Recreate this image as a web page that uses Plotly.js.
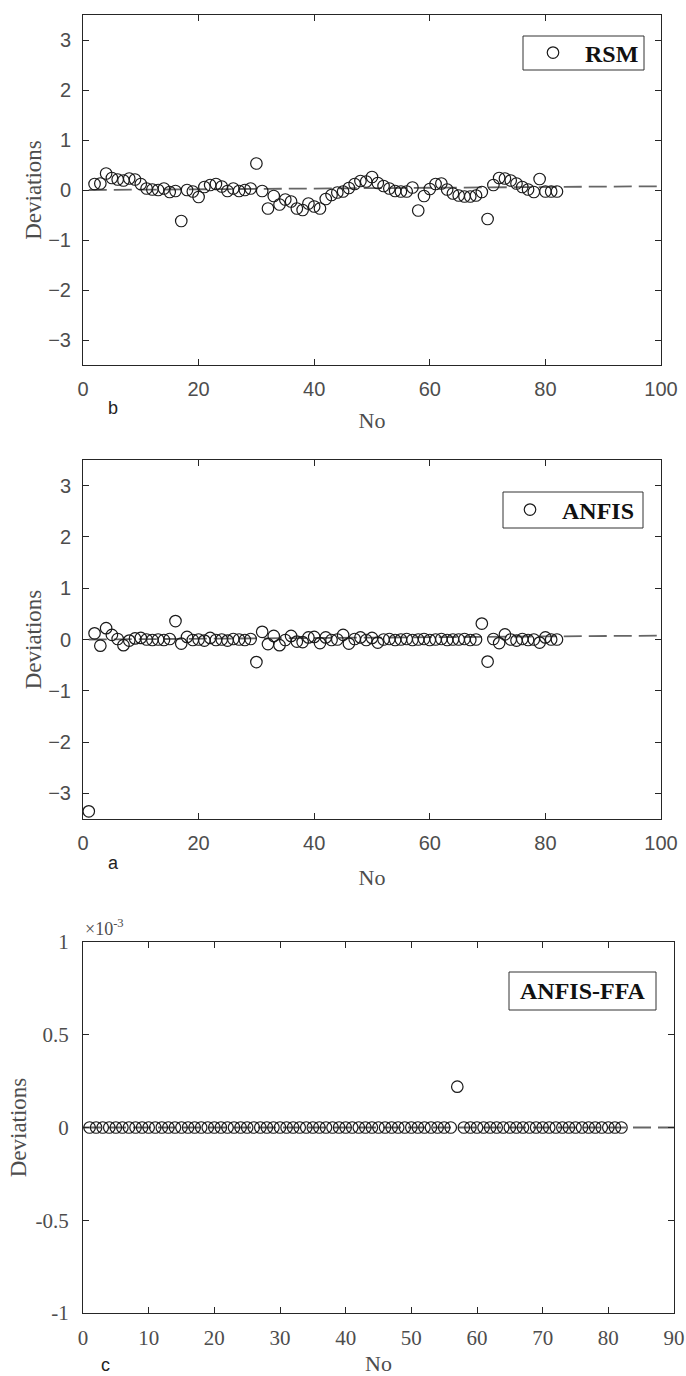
<!DOCTYPE html>
<html>
<head>
<meta charset="utf-8">
<script src="https://cdn.plot.ly/plotly-3.0.1.min.js"></script>
<style>html,body{margin:0;padding:0;background:#fff;}#chart{width:686px;height:1376px;}</style>
</head>
<body>
<div id="chart"></div>
<script>
// ---------- data ----------
const noRSM = [2,3,4,5,6,7,8,9,10,11,12,13,14,15,16,17,18,19,20,21,22,23,24,25,26,27,28,29,30,31,32,33,34,35,36,37,38,39,40,41,42,43,44,45,46,47,48,49,50,51,52,53,54,55,56,57,58,59,60,61,62,63,64,65,66,67,68,69,70,71,72,73,74,75,76,77,78,79,80,81,82];
const devRSM = [0.12,0.13,0.33,0.24,0.21,0.19,0.23,0.21,0.12,0.03,0.01,0.0,0.03,-0.04,-0.02,-0.62,0.0,-0.03,-0.14,0.06,0.10,0.12,0.07,-0.02,0.03,-0.02,0.0,0.03,0.53,-0.02,-0.37,-0.12,-0.29,-0.19,-0.23,-0.37,-0.40,-0.27,-0.33,-0.37,-0.18,-0.10,-0.05,-0.03,0.04,0.12,0.18,0.17,0.26,0.14,0.08,0.03,-0.02,-0.03,-0.03,0.05,-0.41,-0.12,0.02,0.12,0.13,0.01,-0.07,-0.11,-0.13,-0.13,-0.11,-0.04,-0.58,0.10,0.24,0.23,0.19,0.13,0.06,0.01,-0.04,0.22,-0.03,-0.03,-0.03];

const noANFIS = [1,2,3,4,5,6,7,8,9,10,11,12,13,14,15,16,17,18,19,20,21,22,23,24,25,26,27,28,29,30,31,32,33,34,35,36,37,38,39,40,41,42,43,44,45,46,47,48,49,50,51,52,53,54,55,56,57,58,59,60,61,62,63,64,65,66,67,68,69,70,71,72,73,74,75,76,77,78,79,80,81,82];
const devANFIS = [-3.35,0.12,-0.12,0.22,0.09,0.01,-0.11,-0.02,0.02,0.03,0.0,-0.01,0.0,-0.01,0.01,0.36,-0.08,0.05,-0.01,0.0,-0.02,0.03,-0.01,0.0,-0.02,0.01,0.0,-0.01,0.01,-0.44,0.15,-0.09,0.07,-0.11,-0.01,0.07,-0.04,-0.05,0.04,0.05,-0.07,0.04,-0.01,0.0,0.09,-0.08,0.01,0.04,-0.01,0.03,-0.06,0.0,0.01,-0.01,0.0,0.01,-0.01,0.0,0.01,-0.01,0.0,0.01,-0.01,0.0,0.0,0.01,-0.01,0.0,0.31,-0.43,0.01,-0.07,0.10,0.0,-0.02,0.01,-0.01,0.0,-0.06,0.04,0.0,0.0];

const noFFA = [1,2,3,4,5,6,7,8,9,10,11,12,13,14,15,16,17,18,19,20,21,22,23,24,25,26,27,28,29,30,31,32,33,34,35,36,37,38,39,40,41,42,43,44,45,46,47,48,49,50,51,52,53,54,55,56,57,58,59,60,61,62,63,64,65,66,67,68,69,70,71,72,73,74,75,76,77,78,79,80,81,82];
const devFFA = [0,0,0,0,0,0,0,0,0,0, 0,0,0,0,0,0,0,0,0,0, 0,0,0,0,0,0,0,0,0,0, 0,0,0,0,0,0,0,0,0,0, 0,0,0,0,0,0,0,0,0,0, 0,0,0,0,0,0,0.00022,0,0,0, 0,0,0,0,0,0,0,0,0,0, 0,0,0,0,0,0,0,0,0,0, 0,0];

// dashed reference (trend) lines
const fitRSMx = [1, 100];
const fitRSMy = [0.0, 0.075];
const fitANFISx = [1, 100];
const fitANFISy = [0.0, 0.075];
const fitFFAx = [0, 90];
const fitFFAy = [0, 0];

// tick labels
const ticksAB = [-3,-2,-1,0,1,2,3];
const ticksCvals = [-0.001,-0.0005,0,0.0005,0.001];
const ticksCtext = ['-1','-0.5','0','0.5','1'];

// ---------- styling ----------
const W = 686, H = 1376;
const px = v => v / W;
const py = v => 1 - v / H;
const SANS = 'Liberation Sans, Arial, sans-serif';
const SERIF = 'Liberation Serif, Times New Roman, serif';
const TXT = '#4d4d4d';
const AX = '#262626';

const mk = {symbol:'circle-open', size:11.5, color:'#1a1a1a', line:{width:1.2}};
const dash = {color:'#666', width:1.8, dash:'18px,7px'};

const traces = [
  {x:fitRSMx, y:fitRSMy, mode:'lines', line:dash, xaxis:'x', yaxis:'y', showlegend:false, hoverinfo:'skip'},
  {x:noRSM, y:devRSM, mode:'markers', marker:mk, name:'\u00a0\u00a0<b>RSM</b>', xaxis:'x', yaxis:'y', legend:'legend'},
  {x:fitANFISx, y:fitANFISy, mode:'lines', line:dash, xaxis:'x2', yaxis:'y2', showlegend:false, hoverinfo:'skip'},
  {x:noANFIS, y:devANFIS, mode:'markers', marker:mk, name:'\u00a0\u00a0<b>ANFIS</b>', xaxis:'x2', yaxis:'y2', legend:'legend2'},
  {x:fitFFAx, y:fitFFAy, mode:'lines', line:dash, xaxis:'x3', yaxis:'y3', showlegend:false, hoverinfo:'skip'},
  {x:noFFA, y:devFFA, mode:'markers', marker:mk, name:'ANFIS-FFA', xaxis:'x3', yaxis:'y3', showlegend:false}
];

function xax(dom, range, dtick, fontFam, fsize, anchor, standoff){
  return {domain:dom, range:range, dtick:dtick, tick0:0, anchor:anchor,
    showline:true, linecolor:AX, linewidth:1, mirror:'ticks', ticks:'inside', ticklen:6, tickcolor:AX,
    showgrid:false, zeroline:false, ticklabelstandoff:6,
    tickfont:{family:fontFam, size:fsize, color:TXT},
    title:{text:'No', font:{family:SERIF, size:22, color:TXT}, standoff:standoff}};
}
function yax(dom, range, fontFam, fsize, anchor, standoff){
  return {domain:dom, range:range, anchor:anchor,
    showline:true, linecolor:AX, linewidth:1, mirror:'ticks', ticks:'inside', ticklen:6, tickcolor:AX,
    showgrid:false, zeroline:false, ticklabelstandoff:7,
    tickfont:{family:fontFam, size:fsize, color:TXT},
    title:{text:'Deviations', font:{family:SERIF, size:23, color:TXT}, standoff:standoff}};
}

const boxLine = {color:'#333', width:1};
const layout = {
  width:W, height:H, margin:{l:0,r:0,t:0,b:0},
  paper_bgcolor:'#fff', plot_bgcolor:'#fff',
  xaxis: xax([px(83), px(661)], [0,100], 20, SANS, 20, 'y', 13),
  yaxis: Object.assign(yax([py(365), py(15)], [-3.5,3.5], SANS, 20, 'x', 0), {tickvals:ticksAB}),
  xaxis2: xax([px(83), px(661)], [0,100], 20, SANS, 20, 'y2', 16),
  yaxis2: Object.assign(yax([py(819), py(460)], [-3.5,3.5], SANS, 20, 'x2', 0), {tickvals:ticksAB}),
  xaxis3: xax([px(83), px(674)], [0,90], 10, SERIF, 21, 'y3', 7),
  yaxis3: Object.assign(yax([py(1313), py(942)], [-0.001,0.001], SERIF, 21, 'x3', 2), {tickvals:ticksCvals, ticktext:ticksCtext, ticklabelstandoff:9}),
  legend: {x:px(533), xanchor:'left', y:py(53), yanchor:'middle', bgcolor:'rgba(0,0,0,0)', borderwidth:0,
           font:{family:SERIF, size:24, color:'#111'}, indentation:0},
  legend2: {x:px(510), xanchor:'left', y:py(510), yanchor:'middle', bgcolor:'rgba(0,0,0,0)', borderwidth:0,
           font:{family:SERIF, size:24, color:'#111'}, indentation:0},
  shapes: [
    {type:'rect', xref:'paper', yref:'paper', x0:px(523), x1:px(644), y0:py(70), y1:py(36), line:boxLine, fillcolor:'rgba(0,0,0,0)', layer:'above'},
    {type:'rect', xref:'paper', yref:'paper', x0:px(503), x1:px(643), y0:py(528), y1:py(492), line:boxLine, fillcolor:'rgba(0,0,0,0)', layer:'above'},
    {type:'rect', xref:'paper', yref:'paper', x0:px(509), x1:px(656), y0:py(1010), y1:py(972), line:boxLine, fillcolor:'rgba(0,0,0,0)', layer:'above'}
  ],
  annotations: [
    {xref:'paper', yref:'paper', x:px(582.5), y:py(991), xanchor:'center', yanchor:'middle', text:'<b>ANFIS-FFA</b>', showarrow:false,
     font:{family:SERIF, size:24, color:'#111'}},
    {xref:'paper', yref:'paper', x:px(83), y:py(941), xanchor:'left', yanchor:'bottom', text:'\u00d710<sup>-3</sup>', showarrow:false,
     font:{family:SERIF, size:18, color:TXT}},
    {xref:'paper', yref:'paper', x:px(113), y:py(408), xanchor:'center', yanchor:'middle', text:'b', showarrow:false, font:{family:SANS, size:18, color:'#222'}},
    {xref:'paper', yref:'paper', x:px(113), y:py(863), xanchor:'center', yanchor:'middle', text:'a', showarrow:false, font:{family:SANS, size:18, color:'#222'}},
    {xref:'paper', yref:'paper', x:px(105), y:py(1365), xanchor:'center', yanchor:'middle', text:'c', showarrow:false, font:{family:SANS, size:18, color:'#222'}}
  ],
  showlegend:true
};

Plotly.newPlot('chart', traces, layout, {staticPlot:true, displayModeBar:false});
</script>
</body>
</html>
